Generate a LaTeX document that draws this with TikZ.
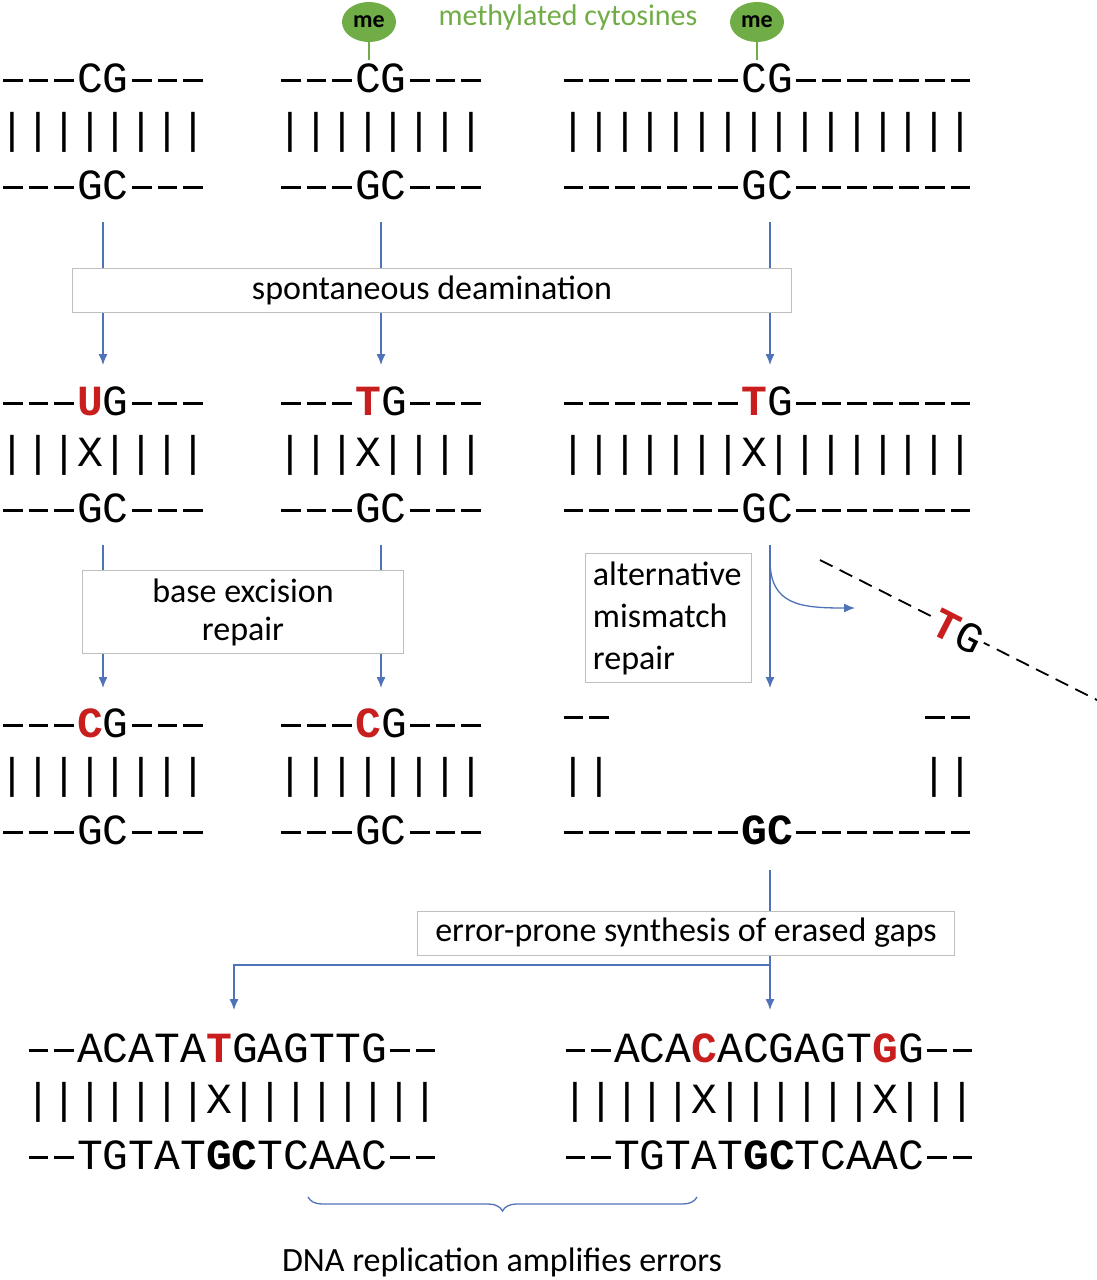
\documentclass[tikz,border=0pt]{standalone}
\usepackage{fontspec}
\setmainfont{Carlito}
\newfontfamily\dna{Liberation Mono}
\usetikzlibrary{arrows.meta,decorations.pathreplacing,shapes.geometric}
\definecolor{bl}{RGB}{79,114,184}
\definecolor{rd}{RGB}{200,30,30}
\definecolor{gr}{RGB}{112,173,71}
\newcommand{\R}[1]{\textcolor{rd}{\textbf{#1}}}
\newcommand{\D}{\makebox[0.6em]{\rule[0.24em]{0.46em}{0.075em}}}
\newcommand{\Ds}[1]{\foreach\i in{1,...,#1}{\D}}
\begin{document}
\begin{tikzpicture}[x=1pt,y=-1pt,
  sq/.style={font=\dna\fontsize{43}{43}\selectfont,inner sep=0pt,anchor=center},
  lbl/.style={draw=black!25,fill=white,font=\fontsize{34}{38}\selectfont,inner sep=0pt},
  arr/.style={bl,line width=1.3pt,-{Latex[length=11pt,width=9pt]}},
  ln/.style={bl,line width=1.3pt},
  me/.style={ellipse,fill=gr,minimum width=54,minimum height=40,inner sep=0pt,font=\bfseries\fontsize{24}{24}\selectfont}]
\useasboundingbox (0,0) rectangle (1097,1280);
% arrows first
\draw[arr] (103,222) -- (103,365);
\draw[arr] (381,222) -- (381,365);
\draw[arr] (770,222) -- (770,365);
\draw[arr] (103,545) -- (103,688);
\draw[arr] (381,545) -- (381,688);
\draw[arr] (770,545) -- (770,688);
\draw[arr] (770,560) .. controls (770,605) and (800,608) .. (855,608);
\coordinate (jn) at (770,965);
\draw[arr] (770,870) -- (770,1010);
\draw[arr] (jn) -- (234,965) -- (234,1010);
% labels
\node[lbl,minimum width=719,minimum height=44] (sd) at (432,290) {spontaneous deamination};
\node[lbl,minimum width=321,minimum height=83,align=center] (be) at (243,612) {base excision\\repair};
\node[lbl,minimum width=166,minimum height=129,align=left,font=\fontsize{34}{42}\selectfont] (am) at (668,618) {alternative\\mismatch\\repair\hspace*{68pt}};
\node[lbl,minimum width=537,minimum height=44] (ep) at (686,933) {error-prone synthesis of erased gaps};
% methyl
\draw[gr,line width=2pt] (369,30) -- (369,60);
\draw[gr,line width=2pt] (757,30) -- (757,60);
\node[me] (m1) at (369,22) {me};
\node[me] (m2) at (757,22) {me};
\node[gr,font=\fontsize{30}{30}\selectfont] (mc) at (568,17) {methylated cytosines};
% row 1
\node[sq] (a1) at (103,78) {\Ds3CG\Ds3};
\node[sq] (a2) at (103,132) {||||||||};
\node[sq] (a3) at (103,185) {\Ds3GC\Ds3};
\node[sq] (b1) at (381,78) {\Ds3CG\Ds3};
\node[sq] (b2) at (381,132) {||||||||};
\node[sq] (b3) at (381,185) {\Ds3GC\Ds3};
\node[sq] (c1) at (767,78) {\Ds7CG\Ds7};
\node[sq] (c2) at (767,132) {||||||||||||||||};
\node[sq] (c3) at (767,185) {\Ds7GC\Ds7};
% row 2
\node[sq] (d1) at (103,401) {\Ds3\R{U}G\Ds3};
\node[sq] (d2) at (103,455) {|||X||||};
\node[sq] (d3) at (103,508) {\Ds3GC\Ds3};
\node[sq] (e1) at (381,401) {\Ds3\R{T}G\Ds3};
\node[sq] (e2) at (381,455) {|||X||||};
\node[sq] (e3) at (381,508) {\Ds3GC\Ds3};
\node[sq] (f1) at (767,401) {\Ds7\R{T}G\Ds7};
\node[sq] (f2) at (767,455) {|||||||X||||||||};
\node[sq] (f3) at (767,508) {\Ds7GC\Ds7};
% row 3
\node[sq] (g1) at (103,723) {\Ds3\R{C}G\Ds3};
\node[sq] (g2) at (103,777) {||||||||};
\node[sq] (g3) at (103,830) {\Ds3GC\Ds3};
\node[sq] (h1) at (381,723) {\Ds3\R{C}G\Ds3};
\node[sq] (h2) at (381,777) {||||||||};
\node[sq] (h3) at (381,830) {\Ds3GC\Ds3};
\node[sq] (i1) at (767,723) {\Ds2\hspace*{309.6pt}\Ds2};
\node[sq] (i2) at (767,777) {||\hspace*{309.6pt}||};
\node[sq] (i3) at (767,830) {\Ds7\textbf{GC}\Ds7};
% dashed strand
\draw[line width=1.8pt,dash pattern=on 14pt off 8pt] (820,560) -- (1097,700);
\node[sq,fill=white,rotate=-27,inner sep=2pt] (tg) at (958,632) {\R{T}G};
% row 4
\node[sq] (j1) at (232,1048) {\Ds2ACATA\R{T}GAGTTG\Ds2};
\node[sq] (j2) at (232,1102) {|||||||X||||||||};
\node[sq] (j3) at (232,1155) {\Ds2TGTAT\textbf{GC}TCAAC\Ds2};
\node[sq] (k1) at (769,1048) {\Ds2ACA\R{C}ACGAGT\R{G}G\Ds2};
\node[sq] (k2) at (769,1102) {|||||X||||||X|||};
\node[sq] (k3) at (769,1155) {\Ds2TGTAT\textbf{GC}TCAAC\Ds2};
% brace
\draw[ln,decorate,decoration={brace,mirror,amplitude=14pt}] (308,1197) -- (697,1197);
\node[font=\fontsize{34}{34}\selectfont] (dr) at (502,1262) {DNA replication amplifies errors};
\end{tikzpicture}
\end{document}
